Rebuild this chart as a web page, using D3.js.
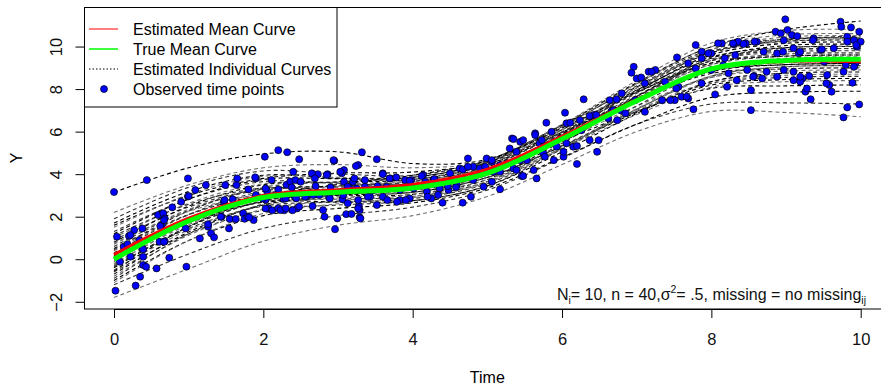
<!DOCTYPE html>
<html><head><meta charset="utf-8">
<script src="https://cdn.jsdelivr.net/npm/d3@7"></script>
<style>body{margin:0;background:#fff} svg{display:block} text{font-family:"Liberation Sans",Arial,sans-serif}</style>
</head><body><svg id="c" width="881" height="390"></svg>
<script>
const knotT = [0,1,2,3,4,5,6,7,8,9,10];
const trueMean = [0, 1.8, 2.9, 3.15, 3.35, 4.05, 5.65, 7.45, 8.95, 9.35, 9.4];
const estMean = [0.22, 1.93, 3.0, 3.27, 3.52, 4.24, 5.78, 7.5, 8.96, 9.3, 9.28];
const indivCurves = [
 [3.15, 4.3, 4.95, 5.05, 4.5, 4.7, 6.3, 8.1, 9.7, 10.3, 10.5],
 [-1.8, -0.45, 0.85, 1.6, 2.05, 2.95, 4.45, 6.0, 6.95, 6.9, 6.7],
 [-1.2, 0.25, 1.45, 2.05, 2.45, 3.25, 4.75, 6.35, 7.3, 7.35, 7.3],
 [1.6, 3.0, 3.8, 4.05, 4.1, 4.6, 6.3, 8.3, 10.0, 10.8, 11.2],
 [2.2, 3.5, 4.3, 4.45, 4.3, 4.6, 6.1, 7.9, 9.6, 10.2, 10.4],
 [1.9, 3.38, 4.15, 4.01, 3.95, 4.65, 6.33, 8.25, 9.87, 10.35, 10.4],
 [1.7, 3.18, 3.95, 3.81, 3.75, 4.45, 6.09, 7.95, 9.51, 9.95, 10.0],
 [1.5, 3.05, 3.9, 3.85, 3.85, 4.55, 6.33, 8.4, 10.17, 10.75, 10.8],
 [1.3, 2.83, 3.65, 3.57, 3.55, 4.25, 5.87, 7.7, 9.23, 9.65, 9.7],
 [1.2, 2.83, 3.75, 3.79, 3.85, 4.55, 5.97, 7.5, 8.73, 8.95, 9.0],
 [1.0, 2.63, 3.55, 3.59, 3.65, 4.35, 6.07, 8.05, 9.73, 10.25, 10.3],
 [0.9, 2.45, 3.3, 3.25, 3.25, 3.95, 5.67, 7.65, 9.33, 9.85, 9.9],
 [0.8, 2.5, 3.5, 3.63, 3.75, 4.45, 5.93, 7.55, 8.87, 9.15, 9.2],
 [0.7, 2.35, 3.3, 3.37, 3.45, 4.15, 5.95, 8.05, 9.85, 10.45, 10.5],
 [0.6, 2.3, 3.3, 3.43, 3.55, 4.25, 5.85, 7.65, 9.15, 9.55, 9.6],
 [0.5, 2.1, 3.0, 3.01, 3.05, 3.75, 5.55, 7.65, 9.45, 10.05, 10.1],
 [0.4, 2.1, 3.1, 3.23, 3.35, 4.05, 5.55, 7.2, 8.55, 8.85, 8.9],
 [0.3, 2.1, 3.2, 3.45, 3.65, 4.35, 5.97, 7.8, 9.33, 9.75, 9.8],
 [0.2, 1.9, 2.9, 3.03, 3.15, 3.85, 5.31, 6.9, 8.19, 8.45, 8.5],
 [0.1, 1.9, 3.0, 3.25, 3.45, 4.15, 5.73, 7.5, 8.97, 9.35, 9.4],
 [0.0, 1.7, 2.7, 2.83, 2.95, 3.65, 5.45, 7.55, 9.35, 9.95, 10.0],
 [-0.1, 1.78, 2.95, 3.29, 3.55, 4.25, 5.57, 6.95, 8.03, 8.15, 8.2],
 [-0.2, 1.63, 2.75, 3.03, 3.25, 3.95, 5.63, 7.55, 9.17, 9.65, 9.7],
 [-0.3, 1.45, 2.5, 2.69, 2.85, 3.55, 5.19, 7.05, 8.61, 9.05, 9.1],
 [-0.4, 1.53, 2.75, 3.15, 3.45, 4.15, 5.89, 7.9, 9.61, 10.15, 10.2],
 [-0.5, 1.38, 2.55, 2.89, 3.15, 3.85, 5.35, 7.0, 8.35, 8.65, 8.7],
 [-0.6, 1.2, 2.3, 2.55, 2.75, 3.45, 5.19, 7.2, 8.91, 9.45, 9.5],
 [-0.7, 1.28, 2.55, 3.01, 3.35, 4.05, 5.63, 7.4, 8.87, 9.25, 9.3],
 [-0.8, 1.13, 2.35, 2.75, 3.05, 3.75, 5.21, 6.8, 8.09, 8.35, 8.4],
 [-0.9, 1.2, 2.6, 3.21, 3.65, 4.35, 5.99, 7.85, 9.41, 9.85, 9.9],
 [-1.0, 0.88, 2.05, 2.39, 2.65, 3.35, 4.79, 6.35, 7.61, 7.85, 7.9],
 [-1.1, 0.88, 2.15, 2.61, 2.95, 3.65, 5.25, 7.05, 8.55, 8.95, 9.0],
 [0.45, 2.27, 3.38, 3.64, 3.85, 4.55, 6.23, 8.15, 9.77, 10.25, 10.3],
 [0.15, 1.76, 2.68, 2.7, 2.75, 3.45, 5.05, 6.85, 8.35, 8.75, 8.8],
 [-0.25, 1.71, 2.98, 3.42, 3.75, 4.45, 6.21, 8.25, 9.99, 10.55, 10.6],
 [1.1, 2.58, 3.35, 3.21, 3.15, 3.85, 5.33, 6.95, 8.27, 8.55, 8.6],
 [-0.55, 1.54, 2.93, 3.52, 3.95, 4.65, 6.17, 7.85, 9.23, 9.55, 9.6],
 [0.75, 2.25, 3.05, 2.94, 2.9, 3.6, 5.23, 7.08, 8.62, 9.05, 9.1],
 [-0.35, 1.54, 2.73, 3.08, 3.35, 4.05, 5.85, 7.95, 9.75, 10.35, 10.4],
 [0.05, 1.88, 3.0, 3.28, 3.5, 4.2, 5.73, 7.43, 8.82, 9.15, 9.2]
];
const obsPoints = [
[0,3.16],[0.04,1.06],[0.02,-1.48],[0.08,-0.12],[0.13,0.59],[0.2,1.09],[0.27,1.37],[0.22,0.12],[0.29,-1.24],[0.35,-0.82],[0.38,1.45],[0.38,0.51],[0.39,-0.27],[0.43,-0.35],[0.44,3.72],[0.34,0.9],[0.57,-0.43],[0.59,2.08],[0.66,2.16],[0.68,1.92],[0.64,1.61],[0.61,0.82],[0.68,0.85],[0.74,0.07],[0.78,2.44],[0.9,2.7],[0.96,1.45],[0.97,-0.35],[0.99,3.8],[0.99,2.95],[1.09,3.25],[1.15,0.98],[1.23,3.49],[1.26,1.53],[1.3,1.22],[1.34,1.03],[1.44,2.0],[1.47,2.7],[1.55,1.89],[1.54,1.45],[1.63,1.89],[1.64,3.49],[1.65,3.8],[1.73,2.16],[1.75,1.9],[1.79,2.0],[1.87,1.84],[1.8,3.28],[1.9,3.8],[2.02,4.82],[2.2,5.13],[2.32,5.03],[2.4,4.11],[2.11,3.72],[2.05,3.2],[2.03,2.8],[2.07,2.39],[2.12,2.3],[2.2,2.4],[2.27,2.83],[2.31,3.5],[2.36,3.65],[2.42,2.95],[2.45,2.39],[2.39,2.3],[2.28,2.3],
[0.22,1.14],[0.18,0.71],[0.39,0.47],[0.39,0.12],[0.62,1.56],[0.67,1.84],[0.67,0.82],[1.0,2.97],[1.26,1.65],
[2.48,4.7],[2.95,4.63],[3.08,4.19],[3.05,4.04],[2.66,4.0],[2.73,4.0],[2.86,4.0],[1.89,3.85],[2.43,3.72],[1.49,3.49],[2.03,3.33],[2.2,3.28],[2.38,3.38],[2.5,3.64],[2.7,3.44],[2.9,3.38],[3.08,3.64],[3.16,3.33],[1.48,2.78],[1.59,2.82],[1.9,3.02],[1.99,2.86],[2.16,3.02],[2.3,2.86],[2.44,2.86],[2.58,2.94],[2.75,3.02],[2.88,2.91],[3.06,2.82],[1.43,2.0],[1.81,1.97],[2.03,2.39],[2.23,2.31],[2.66,2.5],[2.82,2.0],[2.99,1.92],[3.11,2.12],[2.96,1.41],[2.3,2.39],[2.48,2.47],
[3.28,2.5],[3.29,1.97],[3.32,5.03],[3.52,4.7],[2.94,4.66],[3.27,4.43],[2.65,4.04],[2.69,3.8],[2.85,3.96],[3.03,4.11],[3.2,3.64],[3.36,3.72],[3.6,4.04],[3.7,3.8],[3.78,3.85],[3.98,3.72],[4.14,3.96],[4.28,3.72],[4.5,4.04],[4.63,4.27],[4.74,4.74],[4.67,4.22],[4.81,4.35],[4.97,4.27],[5.06,4.58],[5.17,4.11],[5.17,3.29],[4.67,2.66],[4.78,2.94],[4.4,2.66],[4.25,2.86],[3.96,2.86],[3.83,2.78],[3.6,2.94],[3.43,2.94],[3.65,3.41],[3.83,3.25],[4.01,3.33],[4.19,3.17],[4.36,3.33],[4.48,3.25],[4.59,3.49],[4.81,3.72],[3.47,3.25],[3.25,3.33],[3.07,3.02],[2.89,2.86],[2.67,3.02],[2.56,2.94],[2.8,2.31],[3.29,2.31],[3.52,2.55],[3.9,3.72],[5.33,5.68],[5.44,5.52],[5.46,3.91],[5.66,3.8],[5.79,6.42],[5.86,5.99],[6.04,6.89],[6.2,4.48],[6.47,5.05],[6.37,5.6],[6.06,6.39],[6.26,6.07],[6.42,6.78],[5.64,5.92],[5.7,5.45],[5.93,5.29],[6.15,5.29],[4.99,4.74],[5.26,4.51],[5.06,3.64],[4.95,3.41],[5.35,4.27],[5.53,4.66],[5.62,4.19],[5.75,4.98],[5.89,4.66],[6.02,4.82],
[3.24,4.38],[3.6,4.0],[3.13,3.41],[3.22,3.8],[3.36,3.41],[3.53,3.44],[3.69,3.8],[3.96,3.69],[4.12,3.91],[4.17,3.64],[4.29,3.77],[4.47,3.44],[4.58,3.38],[4.74,4.35],[4.9,4.27],[3.13,2.63],[3.27,2.78],[3.27,2.39],[3.18,2.13],[3.3,1.92],[3.4,2.94],[3.66,2.78],[3.79,2.7],[3.91,2.78],[4.2,2.94],[4.34,3.02],
[6.29,7.52],[6.64,7.48],[6.11,6.42],[6.24,6.54],[6.37,6.73],[6.46,6.78],[6.62,6.62],[5.35,5.65],[5.48,5.6],[5.64,5.84],[5.73,5.6],[6.06,5.45],[6.2,5.32],[6.49,5.6],[5.3,5.21],[5.39,5.05],[5.75,5.29],[6.02,5.05],[5.77,4.82],[5.44,4.66],[5.17,4.43],[5.06,4.66],[4.97,4.35],[5.08,4.11],[5.39,4.19],[5.48,3.91],
[7.79,10.07],[6.96,9.05],[6.93,8.77],[7.54,9.49],[6.73,7.52],[7.0,8.5],[7.16,8.82],[7.25,8.9],[7.11,8.27],[6.8,7.8],[6.78,7.01],[6.85,6.86],[6.74,6.54],[7.11,6.93],[7.34,7.48],[7.51,7.48],[7.6,7.64],[7.69,7.56],[7.76,7.05],[8.05,7.75],[7.87,9.76],[8.0,9.68],[8.14,10.15],[8.3,10.12],[8.36,10.23],[7.69,9.21],[7.79,8.97],[8.0,8.9],[8.18,9.45],[8.32,9.6],[8.23,8.74],[8.34,8.42],[7.87,8.27],[7.56,8.11],[7.38,8.35],[8.21,8.11],[6.98,7.48],[6.67,7.01],
[8.99,11.28],[9.73,11.17],[9.74,10.93],[9.87,10.9],[9.98,10.7],[8.86,10.7],[8.93,10.62],[9.02,10.78],[9.08,10.54],[9.15,10.49],[8.97,10.3],[8.46,10.15],[8.61,10.23],[8.7,9.76],[8.88,9.68],[9.1,9.92],[9.17,9.68],[9.37,10.39],[9.46,9.84],[9.64,9.92],[9.82,10.46],[9.91,10.3],[9.95,9.99],[10.0,10.23],[9.82,10.23],[9.8,9.13],[9.93,9.21],[9.55,8.66],[9.31,8.61],[9.22,8.5],[9.19,8.35],[9.1,8.82],[8.97,8.9],[8.88,8.58],[8.68,8.5],[8.57,8.61],[8.48,8.9],[8.53,7.95],[9.26,7.88],[9.33,7.52],[9.58,8.19],[9.61,7.88],[9.89,8.3],[9.82,7.14],[9.98,7.28],[9.77,6.67],[8.53,7.01],[9.51,9.29],
[7.2,8.82],[7.06,8.55],[7.96,9.68],[7.87,9.45],[8.09,10.15],[8.29,10.15],[8.43,10.12],[8.58,10.23],[8.96,9.76],[9.19,9.76],[9.36,10.3],[9.48,9.87],[7.53,8.03],[7.67,7.64],[6.69,7.01],[7.45,7.48],[8.16,9.13],[8.74,8.82],[8.56,8.58],[9.1,8.42],[9.19,8.58],[9.28,8.03],[9.54,8.27],[9.77,8.82],[9.91,9.05],[9.94,10.07]
];
const xTicks = [0,2,4,6,8,10];
const yTicks = [-2,0,2,4,6,8,10];
const legendLabels = ["Estimated Mean Curve","True Mean Curve","Estimated Individual Curves","Observed time points"];

const svg = d3.select("#c");
const x = d3.scaleLinear().domain([-0.4,10.4]).range([84.13,890.57]);
const y = d3.scaleLinear().domain([-2.34,11.86]).range([309,7]);
const line = d3.line().x((d,i)=>x(knotT[i])).y(d=>y(d)).curve(d3.curveCatmullRom.alpha(0.5));

svg.append("g").selectAll("path").data(indivCurves).join("path")
  .attr("d", line).attr("fill","none")
  .attr("stroke",(d,i)=> i%3===1 ? "#707070" : (i%3===2 ? "#333" : "#000"))
  .attr("stroke-width",1.1).attr("stroke-dasharray","4,3");

svg.append("g").selectAll("circle").data(obsPoints).join("circle")
  .attr("cx",d=>x(d[0])).attr("cy",d=>y(d[1])).attr("r",3.5)
  .attr("fill","#0000ff").attr("stroke","#000").attr("stroke-width",0.7);

svg.append("path").datum(estMean).attr("d",line).attr("fill","none").attr("stroke","#ff0000").attr("stroke-width",3);
svg.append("path").datum(trueMean).attr("d",line).attr("fill","none").attr("stroke","#00ff00").attr("stroke-width",5);

// legend
const lg = svg.append("g");
lg.append("rect").attr("x",84.5).attr("y",7.5).attr("width",252.5).attr("height",99.5)
  .attr("fill","#fff").attr("stroke","#000").attr("stroke-width",1);
const ly = i => 29 + i*20;
lg.append("line").attr("x1",89).attr("x2",118).attr("y1",ly(0)).attr("y2",ly(0)).attr("stroke","#ff0000").attr("stroke-width",1);
lg.append("line").attr("x1",89).attr("x2",118).attr("y1",ly(1)).attr("y2",ly(1)).attr("stroke","#00ff00").attr("stroke-width",1.5);
lg.append("line").attr("x1",89).attr("x2",118).attr("y1",ly(2)).attr("y2",ly(2)).attr("stroke","#000").attr("stroke-width",1).attr("stroke-dasharray","1.5,2");
lg.append("circle").attr("cx",104).attr("cy",ly(3)).attr("r",3.5).attr("fill","#0000ff").attr("stroke","#000").attr("stroke-width",0.7);
lg.selectAll("text.lt").data(legendLabels).join("text").attr("class","lt")
  .attr("x",133).attr("y",(d,i)=>ly(i)+5.8).attr("font-size",16).attr("fill","#000").text(d=>d);

// box
svg.append("rect").attr("x",84.5).attr("y",7.5).attr("width",806).attr("height",301.5)
  .attr("fill","none").attr("stroke","#000").attr("stroke-width",1);

// axes
const xa = svg.append("g").attr("transform","translate(0,309)")
  .call(d3.axisBottom(x).tickValues(xTicks).tickSize(9).tickPadding(15).tickFormat(d3.format("d")));
xa.select(".domain").attr("d",`M${x(0)},0.5H${x(10)}`);
xa.attr("font-size",16.5).attr("font-family","Liberation Sans, Arial, sans-serif");
xa.selectAll("text").attr("fill","#111");

const ya = svg.append("g").attr("transform","translate(84.5,0)")
  .call(d3.axisLeft(y).tickValues(yTicks).tickSize(9).tickFormat(d3.format("d")));
ya.select(".domain").attr("d",`M0,${y(-2)}V${y(10)}`);
ya.attr("font-size",16.5).attr("font-family","Liberation Sans, Arial, sans-serif");
ya.selectAll("text").attr("transform","rotate(-90)").attr("x",0).attr("y",-23).attr("dy",0)
  .attr("text-anchor","middle").attr("fill","#111");

svg.append("text").attr("x",487.3).attr("y",383).attr("text-anchor","middle").attr("font-size",16).text("Time");
svg.append("text").attr("transform","translate(22,158) rotate(-90)").attr("text-anchor","middle").attr("font-size",16).text("Y");

// annotation
const ann = svg.append("text").attr("x",866).attr("y",300).attr("text-anchor","end").attr("font-size",16).attr("fill","#111");
ann.append("tspan").text("N");
ann.append("tspan").attr("dy",4).attr("font-size",10.5).text("i");
ann.append("tspan").attr("dy",-4).text("= 10, n = 40,σ");
ann.append("tspan").attr("dy",-7).attr("font-size",10.5).text("2");
ann.append("tspan").attr("dy",7).text("= .5, missing = no missing");
ann.append("tspan").attr("dy",4).attr("font-size",10.5).text("ij");
</script></body></html>
